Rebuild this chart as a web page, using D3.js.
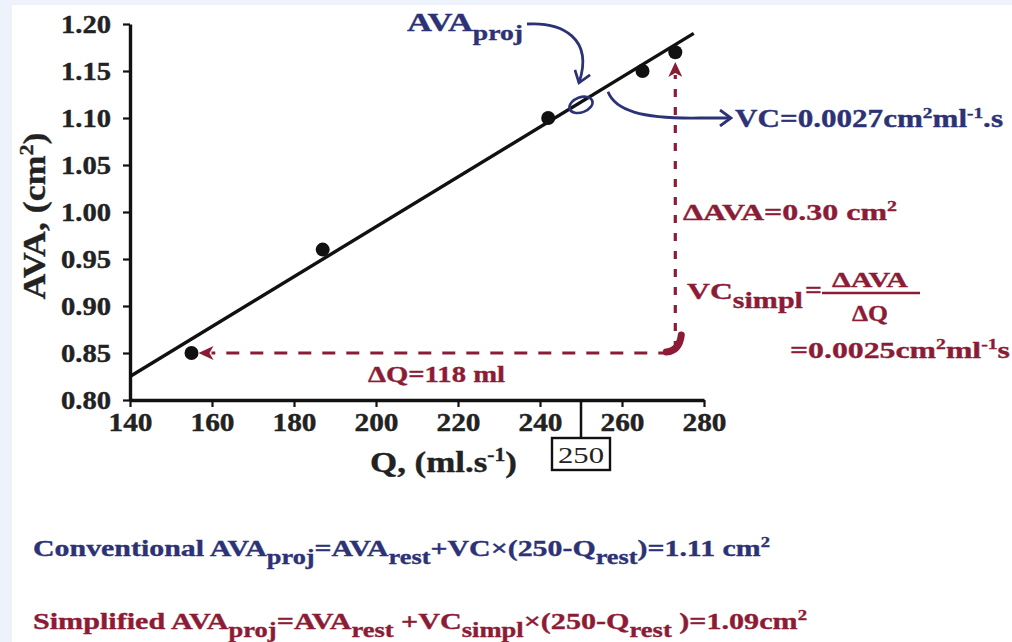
<!DOCTYPE html>
<html>
<head>
<meta charset="utf-8">
<script src="https://cdn.jsdelivr.net/npm/d3@7"></script>
<style>
  html, body { margin: 0; padding: 0; background: #eef2fa; }
  svg { display: block; }
  text { font-family: "Liberation Serif", "Times New Roman", serif; font-weight: bold; }
</style>
</head>
<body>
<svg id="chart" width="1012" height="642"></svg>
<script>
// Measured flow (Q, ml/s) and valve area (AVA, cm²) at each stage
const qValues = [155, 187, 242, 265, 273];
const avaValues = [0.85, 0.96, 1.10, 1.15, 1.17];

// Regression line end points
const fitQ = [140, 277.5];
const fitAVA = [0.825, 1.19];

// Projected AVA at the standard flow
const qStandard = 250;
const avaProjected = 1.114;

// Rest / peak points used for the simplified slope
const qRest = 155, qPeak = 273;
const avaRest = 0.85, avaPeakRise = 1.15;

const xTicks = [140, 160, 180, 200, 220, 240, 260, 280];
const yTicks = [0.80, 0.85, 0.90, 0.95, 1.00, 1.05, 1.10, 1.15, 1.20];

const NAVY = "#2c3275";
const RED = "#8c1c36";
const INK = "#111";

const svg = d3.select("#chart");
svg.append("rect").attr("x", 12).attr("y", 5).attr("width", 1000).attr("height", 637).attr("fill", "#fff");

const x = d3.scaleLinear().domain([140, 280]).range([130, 704]);
const y = d3.scaleLinear().domain([0.80, 1.20]).range([400, 24]);

// Text with sub/superscript runs; parts = [[string, "n"|"sub"|"sup"], ...]
function rich(x0, y0, parts, o) {
  const size = o.size;
  const t = svg.append("text")
    .attr("x", x0).attr("y", y0)
    .attr("fill", o.fill || INK)
    .attr("stroke", o.fill || INK).attr("stroke-width", 0.35)
    .attr("font-size", size)
    .attr("text-anchor", o.anchor || "start");
  if (o.length) t.attr("textLength", o.length).attr("lengthAdjust", "spacingAndGlyphs");
  if (o.transform) t.attr("transform", o.transform);
  let shift = 0;
  parts.forEach(([s, kind]) => {
    let target = 0, fs = size;
    if (kind === "sub") { target = size * (o.subShift || 0.35); fs = size * (o.subScale || 0.88); }
    if (kind === "sup") { target = -size * 0.38; fs = size * 0.62; }
    t.append("tspan").attr("dy", target - shift).attr("font-size", fs).text(s);
    shift = target;
  });
  return t;
}

// Axes
const yAxis = d3.axisLeft(y).tickValues(yTicks).tickFormat(d3.format(".2f")).tickSize(7).tickSizeOuter(0).tickPadding(12);
const xAxis = d3.axisBottom(x).tickValues(xTicks).tickFormat(d3.format("d")).tickSize(7).tickSizeOuter(0).tickPadding(6);

const gy = svg.append("g").attr("transform", `translate(${x(140)},0)`).call(yAxis);
const gx = svg.append("g").attr("transform", `translate(0,${y(0.80)})`).call(xAxis);
[gy, gx].forEach(g => {
  g.select(".domain").attr("stroke", INK).attr("stroke-width", 3.4);
  g.selectAll(".tick line").attr("stroke", INK).attr("stroke-width", 2.2);
  g.selectAll(".tick text").attr("fill", "#222").attr("stroke", "#222").attr("stroke-width", 0.4)
    .style("font-family", '"Liberation Serif", serif').style("font-weight", "bold").attr("font-size", 26);
});
gy.selectAll(".tick text").attr("textLength", 50).attr("lengthAdjust", "spacingAndGlyphs");
gx.selectAll(".tick text").attr("textLength", 44).attr("lengthAdjust", "spacingAndGlyphs");

// Axis titles
rich(370, 472, [["Q, (ml.s", "n"], ["-1", "sup"], [")", "n"]],
  { size: 29, length: 147, fill: "#222" });
rich(0, 0, [["AVA, (cm", "n"], ["2", "sup"], [")", "n"]],
  { size: 31, length: 167, fill: "#222", anchor: "middle", transform: "translate(45,216) rotate(-90)" });

// Standard flow marker under the x axis
svg.append("line").attr("x1", x(qStandard)).attr("x2", x(qStandard))
  .attr("y1", y(0.80)).attr("y2", 438).attr("stroke", INK).attr("stroke-width", 2.5);
svg.append("rect").attr("x", x(qStandard) - 29).attr("y", 438).attr("width", 58).attr("height", 32)
  .attr("fill", "#fff").attr("stroke", INK).attr("stroke-width", 2.4);
svg.append("text").attr("x", x(qStandard)).attr("y", 463).attr("text-anchor", "middle")
  .attr("font-size", 24).attr("fill", "#222").attr("textLength", 46).attr("lengthAdjust", "spacingAndGlyphs")
  .style("font-weight", "normal").text(qStandard);

// Regression line
svg.append("line")
  .attr("x1", x(fitQ[0])).attr("y1", y(fitAVA[0]))
  .attr("x2", x(fitQ[1])).attr("y2", y(fitAVA[1]))
  .attr("stroke", INK).attr("stroke-width", 3.4);

// Data points
svg.append("g").selectAll("circle").data(qValues.map((q, i) => [q, avaValues[i]]))
  .join("circle")
  .attr("cx", d => x(d[0])).attr("cy", d => y(d[1])).attr("r", 7).attr("fill", INK);

// Arrowheads
const defs = svg.append("defs");
defs.append("marker").attr("id", "redHead").attr("viewBox", "0 -7 15 14")
  .attr("refX", 2).attr("refY", 0).attr("markerUnits", "userSpaceOnUse")
  .attr("markerWidth", 15).attr("markerHeight", 14).attr("orient", "auto")
  .append("path").attr("d", "M0,-7 L15,0 L0,7 L4,0 Z").attr("fill", RED);
defs.append("marker").attr("id", "navyHead").attr("viewBox", "-12 -9 14 18")
  .attr("refX", 0).attr("refY", 0).attr("markerUnits", "userSpaceOnUse")
  .attr("markerWidth", 14).attr("markerHeight", 18).attr("orient", "auto")
  .append("path").attr("d", "M-11,-8 L0,0 L-11,8").attr("fill", "none")
  .attr("stroke", NAVY).attr("stroke-width", 2.8);

// Simplified slope: horizontal ΔQ and vertical ΔAVA legs
svg.append("line")
  .attr("x1", x(qPeak) - 4).attr("y1", y(avaRest))
  .attr("x2", x(qRest) + 20).attr("y2", y(avaRest))
  .attr("stroke", RED).attr("stroke-width", 3.2).attr("stroke-dasharray", "13,11")
  .attr("marker-end", "url(#redHead)");
svg.append("line")
  .attr("x1", x(qPeak)).attr("y1", y(avaRest) - 4)
  .attr("x2", x(qPeak)).attr("y2", y(avaPeakRise) + 4)
  .attr("stroke", RED).attr("stroke-width", 3.2).attr("stroke-dasharray", "8,10")
  .attr("marker-end", "url(#redHead)");
// Corner where the two legs start
svg.append("path")
  .attr("d", `M${x(qPeak) + 6},${y(avaRest) - 18} Q${x(qPeak) + 4},${y(avaRest) - 2} ${x(qPeak) - 9},${y(avaRest) - 1}`)
  .attr("fill", "none").attr("stroke", RED).attr("stroke-width", 7).attr("stroke-linecap", "round");

// Projected AVA marker
const px = x(qStandard), py = y(avaProjected);
svg.append("ellipse").attr("cx", px).attr("cy", py).attr("rx", 12).attr("ry", 7.5)
  .attr("transform", `rotate(-20,${px},${py})`)
  .attr("fill", "none").attr("stroke", NAVY).attr("stroke-width", 2.6);

// Label arrow for AVA_proj
svg.append("path")
  .attr("d", `M527,24 C562,22 594,38 ${px - 2},${py - 22}`)
  .attr("fill", "none").attr("stroke", NAVY).attr("stroke-width", 2.8)
  .attr("marker-end", "url(#navyHead)");
rich(407, 31, [["AVA", "n"], ["proj", "sub"]], { size: 25, fill: NAVY, length: 116, subShift: 0.36, subScale: 0.8 });

// Slope arrow for VC
svg.append("path")
  .attr("d", `M${px + 27},${py - 13} C615,110 640,119 700,118 L731,118`)
  .attr("fill", "none").attr("stroke", NAVY).attr("stroke-width", 2.8)
  .attr("marker-end", "url(#navyHead)");
rich(735, 127, [["VC=0.0027cm", "n"], ["2", "sup"], ["ml", "n"], ["-1", "sup"], [".s", "n"]],
  { size: 25, fill: NAVY, length: 268 });

// Simplified slope annotations
rich(683, 220, [["ΔAVA=0.30 cm", "n"], ["2", "sup"]], { size: 23, fill: RED, length: 214 });
rich(687, 299, [["VC", "n"], ["simpl", "sub"]], { size: 24, fill: RED, length: 116, subShift: 0.38, subScale: 0.95 });
rich(805, 298, [["=", "n"]], { size: 24, fill: RED, length: 17 });
svg.append("line").attr("x1", 822).attr("x2", 920).attr("y1", 293).attr("y2", 293)
  .attr("stroke", RED).attr("stroke-width", 2.6);
rich(870, 287, [["ΔAVA", "n"]], { size: 22, fill: RED, length: 76, anchor: "middle" });
rich(870, 321, [["ΔQ", "n"]], { size: 23, fill: RED, length: 36, anchor: "middle" });
rich(790, 358, [["=0.0025cm", "n"], ["2", "sup"], ["ml", "n"], ["-1", "sup"], ["s", "n"]],
  { size: 24, fill: RED, length: 220 });
rich(368, 382, [["ΔQ=118 ml", "n"]], { size: 23, fill: RED, length: 137 });

// Formulas below the chart
rich(33, 556, [["Conventional AVA", "n"], ["proj", "sub"], ["=AVA", "n"], ["rest", "sub"],
  ["+VC×(250-Q", "n"], ["rest", "sub"], [")=1.11 cm", "n"], ["2", "sup"]],
  { size: 23, fill: NAVY, length: 737 });
rich(33, 629, [["Simplified AVA", "n"], ["proj", "sub"], ["=AVA", "n"], ["rest", "sub"],
  [" +VC", "n"], ["simpl", "sub"], ["×(250-Q", "n"], ["rest", "sub"], [" )=1.09cm", "n"], ["2", "sup"]],
  { size: 23, fill: RED, length: 774 });
</script>
</body>
</html>
